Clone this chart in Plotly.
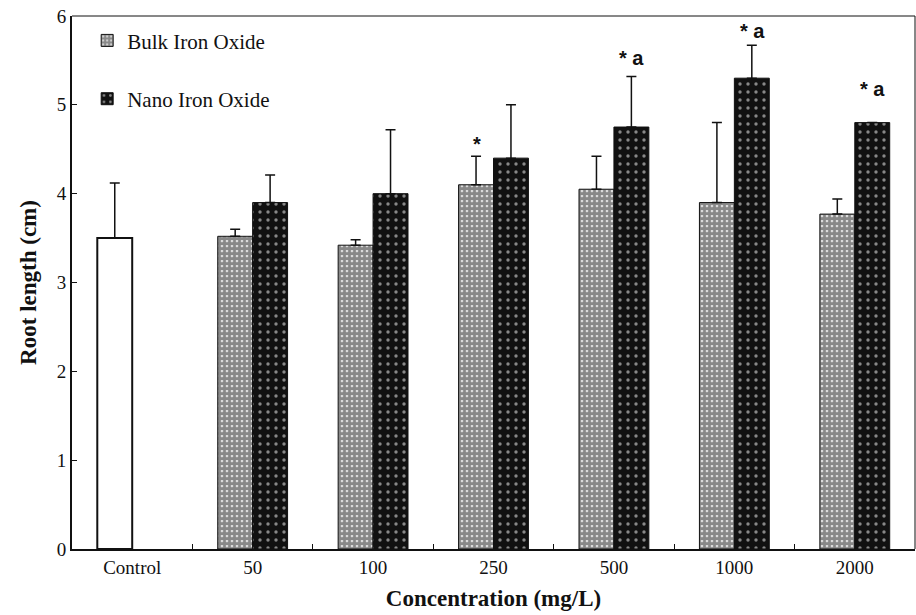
import plotly.graph_objects as go

categories = ["Control", "50", "100", "250", "500", "1000", "2000"]
control_value = [3.50]
control_err = [0.62]
bulk_cats = ["50", "100", "250", "500", "1000", "2000"]
bulk_values = [3.52, 3.42, 4.10, 4.05, 3.90, 3.77]
bulk_err = [0.08, 0.06, 0.32, 0.37, 0.90, 0.17]
nano_values = [3.90, 4.00, 4.40, 4.75, 5.30, 4.80]
nano_err = [0.31, 0.72, 0.60, 0.57, 0.37, 0.0]
# significance labels: (category, series, text, label height)
sig_cats = ["250", "500", "1000", "2000"]
sig_series = ["bulk", "nano", "nano", "nano"]
sig_text = ["*", "* a", "* a", "* a"]
sig_y = [4.56, 5.53, 5.83, 5.18]
y_ticks = [0, 1, 2, 3, 4, 5, 6]

W = 0.29
serif = "Liberation Serif"

fig = go.Figure()
fig.add_trace(go.Bar(
    x=["Control"], y=control_value, name="Control", showlegend=False,
    width=W, offset=-W,
    marker=dict(color="white", line=dict(color="#111", width=2)),
    error_y=dict(type="data", symmetric=False, array=control_err, arrayminus=[0],
                 color="#111", thickness=1.5, width=5),
))
fig.add_trace(go.Bar(
    x=bulk_cats, y=bulk_values, name="Bulk Iron Oxide", legendgroup="b",
    width=W, offset=-W,
    marker=dict(color="white", line=dict(color="#111", width=1),
                pattern=dict(shape=".", fgcolor="#111", bgcolor="white",
                             size=5, solidity=0.8)),
    error_y=dict(type="data", symmetric=False, array=bulk_err, arrayminus=[0]*6,
                 color="#111", thickness=1.5, width=5),
))
fig.add_trace(go.Bar(
    x=bulk_cats, y=nano_values, name="Nano Iron Oxide", legendgroup="n",
    width=W, offset=0,
    marker=dict(color="#111", line=dict(color="#111", width=1),
                pattern=dict(shape=".", fgcolor="white", bgcolor="#111",
                             size=8, solidity=0.14)),
    error_y=dict(type="data", symmetric=False, array=nano_err, arrayminus=[0]*6,
                 color="#111", thickness=1.5, width=5),
))

for c, s, t, yv in zip(sig_cats, sig_series, sig_text, sig_y):
    fig.add_annotation(x=categories.index(c), y=yv, xref="x", yref="y",
                       text="<b>%s</b>" % t,
                       showarrow=False, xshift=(-17 if s == "bulk" else 18),
                       yanchor="middle",
                       font=dict(family="Liberation Sans", size=20, color="#111"))

# top and right frame lines
fig.add_shape(type="line", xref="paper", yref="paper", x0=0, x1=1, y0=1, y1=1,
              line=dict(color="#111", width=1))
fig.add_shape(type="line", xref="paper", yref="paper", x0=1, x1=1, y0=0, y1=1,
              line=dict(color="#111", width=1))

fig.update_layout(
    width=916, height=615,
    margin=dict(l=72, r=1, t=16, b=66),
    plot_bgcolor="white", paper_bgcolor="white",
    barmode="overlay",
    font=dict(family=serif, color="#111"),
    legend=dict(x=0.018, y=0.992, xanchor="left", yanchor="top",
                traceorder="grouped", tracegroupgap=28,
                font=dict(family=serif, size=21, color="#111"),
                bgcolor="rgba(0,0,0,0)", itemwidth=30),
    xaxis=dict(type="category", categoryorder="array", categoryarray=categories,
               range=[-0.5, 6.5], showline=True, linecolor="#111", linewidth=2,
               ticks="inside", tickson="boundaries", ticklen=5, tickcolor="#111",
               tickfont=dict(family=serif, size=19, color="#111"),
               title=dict(text="<b>Concentration (mg/L)</b>",
                          font=dict(family=serif, size=23, color="#111"), standoff=13),
               showgrid=False, zeroline=False),
    yaxis=dict(range=[0, 6], tickvals=y_ticks, showline=True, linecolor="#111",
               linewidth=2, ticks="inside", ticklen=5, tickcolor="#111",
               tickfont=dict(family=serif, size=19, color="#111"),
               title=dict(text="<b>Root length (cm)</b>",
                          font=dict(family=serif, size=23, color="#111"), standoff=14),
               showgrid=False, zeroline=False),
)

fig.write_html("out.html")
